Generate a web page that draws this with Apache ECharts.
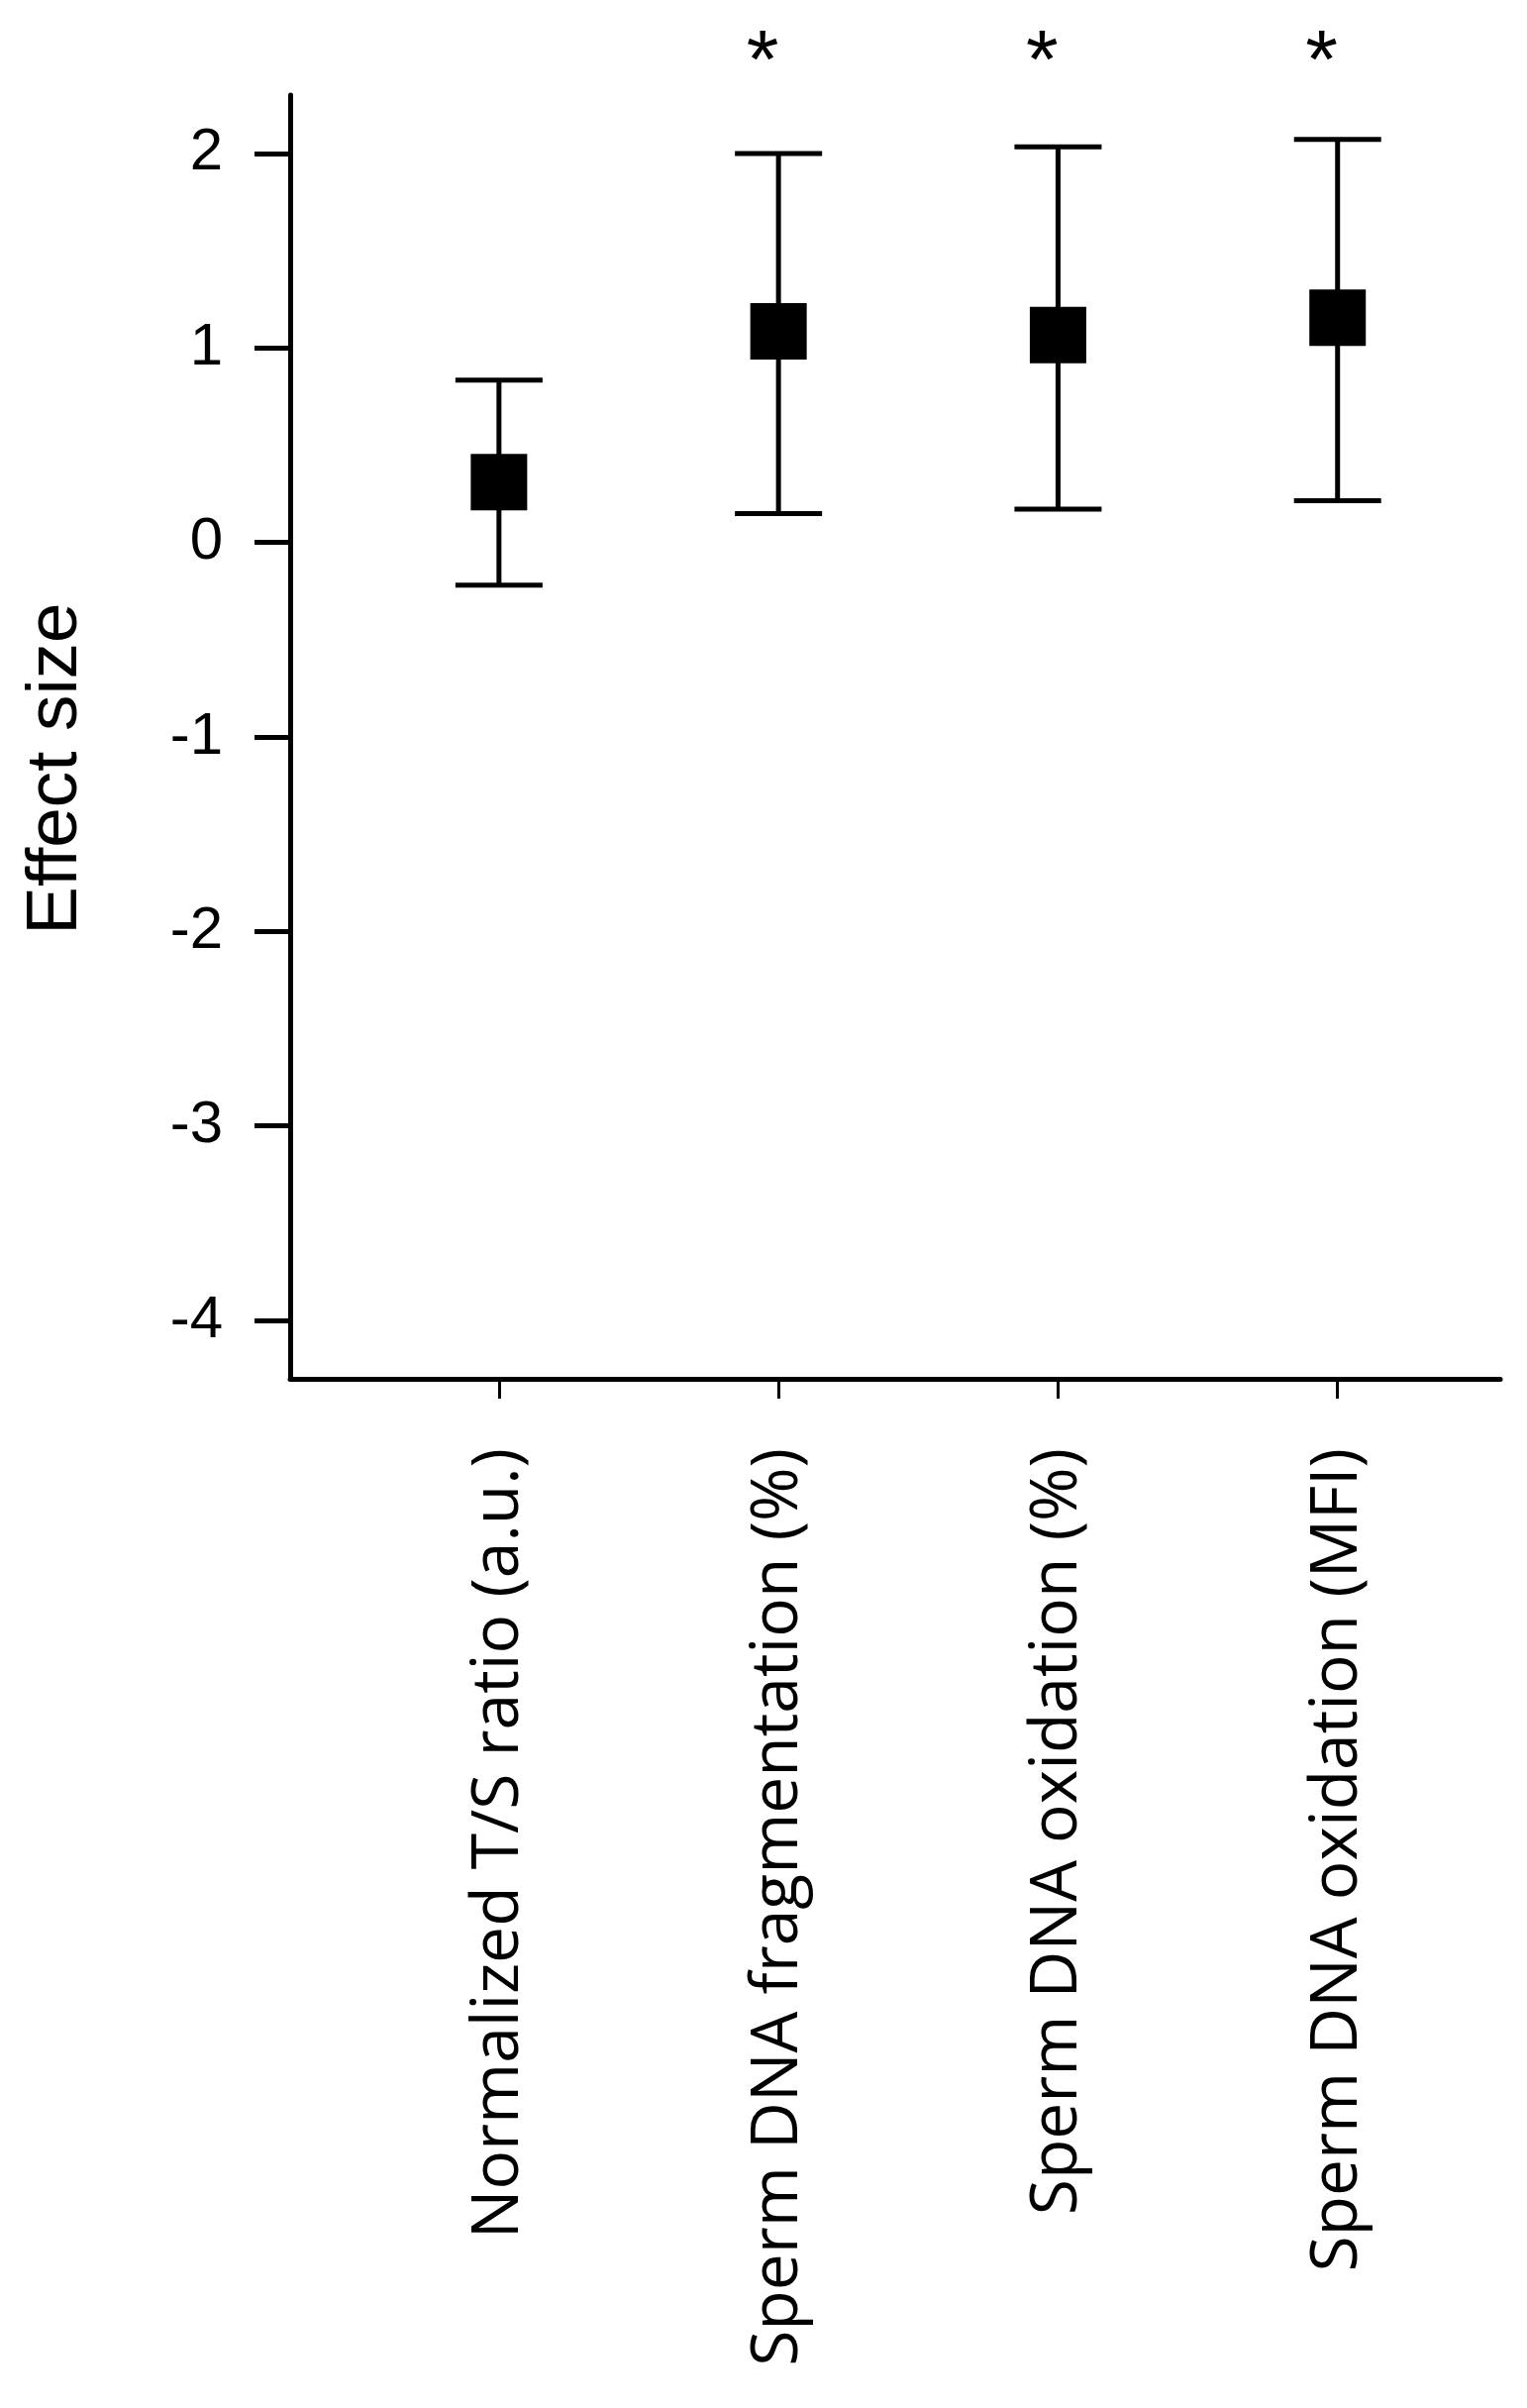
<!DOCTYPE html>
<html>
<head>
<meta charset="utf-8">
<script src="https://cdn.jsdelivr.net/npm/echarts@6/dist/echarts.min.js"></script>
<style>
html,body{margin:0;padding:0;background:#fff;}
#chart{width:1542px;height:2431px;}
</style>
</head>
<body>
<div id="chart"></div>
<script>
// ---- data ----
const categories = [
  'Normalized T/S ratio (a.u.)',
  'Sperm DNA fragmentation (%)',
  'Sperm DNA oxidation (%)',
  'Sperm DNA oxidation (MFI)'
];
const effectSize = [0.31, 1.085, 1.066, 1.155];
const ciLower = [-0.22, 0.148, 0.171, 0.214];
const ciUpper = [0.834, 2.0, 2.034, 2.072];
const significance = ['', '*', '*', '*'];
const yTickValues = [-4, -3, -2, -1, 0, 1, 2];
const xTickValues = [0, 1, 2, 3];

const Y_MIN = -4.3, Y_MAX = 2.3;
const X_MIN = -0.747, X_MAX = 3.582;

const errorData = categories.map((c, i) => [i, ciLower[i], ciUpper[i], significance[i]]);
const pointData = categories.map((c, i) => [i, effectSize[i]]);

const chart = echarts.init(document.getElementById('chart'), null, {renderer: 'canvas'});

chart.setOption({
  backgroundColor: '#ffffff',
  animation: false,
  grid: {left: 293, right: 27, top: 96, bottom: 1039, containLabel: false},
  xAxis: {
    type: 'value',
    min: X_MIN,
    max: X_MAX,
    splitLine: {show: false},
    axisLine: {show: true, onZero: false, lineStyle: {color: '#000', width: 5}},
    axisTick: {show: true, customValues: xTickValues, length: 20, lineStyle: {color: '#000', width: 3}},
    axisLabel: {
      show: true,
      customValues: xTickValues,
      rotate: 90,
      margin: 70,
      color: '#000',
      fontFamily: 'Open Sans',
      fontSize: 66,
      formatter: function (v) { return categories[Math.round(v)]; }
    }
  },
  yAxis: {
    type: 'value',
    min: Y_MIN,
    max: Y_MAX,
    name: 'Effect size',
    nameLocation: 'middle',
    nameGap: 200,
    nameTextStyle: {color: '#000', fontFamily: 'Liberation Sans', fontSize: 73, padding: [0, 64, 0, 0]},
    splitLine: {show: false},
    axisLine: {show: true, onZero: false, lineStyle: {color: '#000', width: 5}},
    axisTick: {show: true, customValues: yTickValues, length: 36, lineStyle: {color: '#000', width: 5}},
    axisLabel: {
      show: true,
      customValues: yTickValues,
      margin: 68,
      color: '#000',
      fontFamily: 'Liberation Sans',
      fontSize: 60,
      formatter: function (v) { return String(v); }
    }
  },
  series: [
    {
      type: 'custom',
      clip: false,
      data: errorData,
      z: 2,
      renderItem: function (params, api) {
        const i = api.value(0);
        const lo = api.coord([i, api.value(1)]);
        const hi = api.coord([i, api.value(2)]);
        const top = api.coord([i, Y_MAX]);
        const half = 44;
        const style = {stroke: '#000', lineWidth: 5};
        const children = [
          {type: 'line', shape: {x1: hi[0], y1: hi[1], x2: lo[0], y2: lo[1]}, style: style},
          {type: 'line', shape: {x1: hi[0] - half, y1: hi[1], x2: hi[0] + half, y2: hi[1]}, style: style},
          {type: 'line', shape: {x1: lo[0] - half, y1: lo[1], x2: lo[0] + half, y2: lo[1]}, style: style}
        ];
        const sig = significance[params.dataIndex];
        if (sig) {
          children.push({
            type: 'text',
            style: {
              text: sig, x: hi[0] - 16, y: top[1] - 30,
              fill: '#000', font: '84px "Liberation Sans"',
              align: 'center', verticalAlign: 'middle'
            }
          });
        }
        return {type: 'group', children: children};
      }
    },
    {
      type: 'scatter',
      data: pointData,
      symbol: 'rect',
      symbolSize: [57, 57],
      itemStyle: {color: '#000', opacity: 1},
      z: 3
    }
  ]
});
</script>
</body>
</html>
